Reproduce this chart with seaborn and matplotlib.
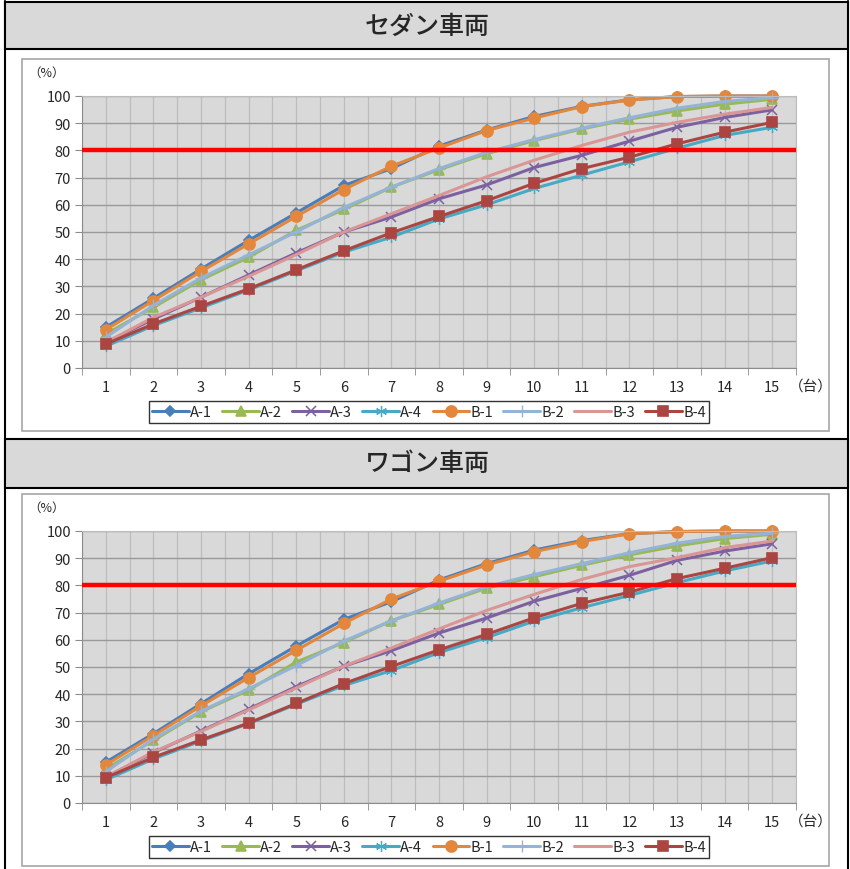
import pandas as pd
import matplotlib.pyplot as plt
import seaborn as sns
from matplotlib.patches import Rectangle
from matplotlib.lines import Line2D

sns.set_style("white")
plt.rcParams['font.family'] = ['Noto Sans CJK JP', 'DejaVu Sans']

# Daten
units = list(range(1, 16))
series_names = ["A-1", "A-2", "A-3", "A-4", "B-1", "B-2", "B-3", "B-4"]
titles = ["セダン車両", "ワゴン車両"]
threshold = 80

sedan_a1 = [15, 25.6, 36.4, 46.9, 57, 67.1, 73.3, 81.6, 87.5, 92.5, 96.2, 98.6, 99.8, 100, 100]
sedan_a2 = [12.5, 22.3, 32.4, 40.7, 50.6, 58.3, 66.5, 72.9, 78.8, 83.6, 87.9, 91.5, 94.5, 97, 98.8]
sedan_a3 = [9.4, 18, 26, 34.2, 42.3, 50, 55.5, 62.2, 67.3, 73.7, 78.2, 83.4, 88.5, 92.1, 94.9]
sedan_a4 = [8, 15.6, 22.1, 28.7, 35.7, 42.6, 48.1, 54.8, 60, 66, 70.9, 75.8, 80.8, 85.5, 88.5]
sedan_b1 = [14.1, 24.8, 35.5, 45.6, 55.7, 65.6, 74.2, 80.9, 87.3, 91.9, 96.1, 98.5, 99.8, 100, 100]
sedan_b2 = [11.3, 23, 33.1, 41.6, 50, 59, 66.5, 73.3, 79.3, 84, 88.2, 92, 95.5, 98, 99.4]
sedan_b3 = [9.4, 18.6, 26, 33.7, 41.7, 50, 56.7, 63.4, 70.3, 76.4, 81.8, 86.7, 90.3, 93.3, 95.8]
sedan_b4 = [8.8, 16.2, 22.7, 29.1, 36.1, 43.1, 49.7, 55.7, 61.5, 67.9, 73.3, 77.5, 82.4, 86.7, 90.3]

wagon_a1 = [15, 25.5, 36.5, 47.5, 57.7, 67.5, 74, 82, 88, 93, 96.5, 99, 99.8, 100, 100]
wagon_a2 = [12.5, 23, 33.5, 41.5, 51.8, 59, 67, 73, 79, 83.2, 87.4, 91.2, 94.5, 97.2, 98.8]
wagon_a3 = [9.5, 18.5, 26.5, 34.5, 42.8, 50.3, 56, 62.5, 68, 74.2, 78.9, 83.7, 89.2, 92.6, 95.3]
wagon_a4 = [8.5, 16.2, 22.8, 29.2, 36.3, 43.2, 48.7, 55.3, 60.8, 66.9, 71.8, 76.3, 81, 85.3, 89]
wagon_b1 = [14, 24.8, 35.7, 46.1, 56.1, 66, 75, 81.5, 87.5, 92.4, 96.1, 99, 99.8, 100, 100]
wagon_b2 = [11.5, 23.5, 33.8, 42, 50.5, 59.5, 67, 73.5, 79.5, 84, 88, 92, 95.5, 98, 99.2]
wagon_b3 = [9.5, 18.8, 26.3, 34.2, 42.3, 50.3, 57, 64, 70.8, 76.7, 82.2, 86.9, 90.2, 93.9, 96.3]
wagon_b4 = [9.3, 16.8, 23.2, 29.4, 36.6, 43.9, 50.2, 56.3, 62, 68.1, 73.4, 77.5, 82.5, 86.3, 90.2]

sedan = [sedan_a1, sedan_a2, sedan_a3, sedan_a4, sedan_b1, sedan_b2, sedan_b3, sedan_b4]
wagon = [wagon_a1, wagon_a2, wagon_a3, wagon_a4, wagon_b1, wagon_b2, wagon_b3, wagon_b4]

# Stil je Serie: Farbe, Marker, Markergröße, Markerlinie
styles = {
    "A-1": ("#4a7ebb", "D", 5, 1.2),
    "A-2": ("#98b954", "^", 6.5, 1.2),
    "A-3": ("#7d60a0", "x", 6.5, 1.1),
    "A-4": ("#46aac5", (6, 2, 0), 8, 0.9),
    "B-1": ("#e3873d", "o", 8, 1.2),
    "B-2": ("#95b3d7", "+", 9, 1.0),
    "B-3": ("#d99694", None, 0, 1.0),
    "B-4": ("#ab4542", "s", 7.5, 1.2),
}

W, H = 850, 870
fig = plt.figure(figsize=(W / 100, H / 100), dpi=100)


def fx(px):
    return px / W


def fy(py):
    return 1 - py / H


# Tabellenrahmen
fig.add_artist(Line2D([fx(5), fx(5)], [fy(2), fy(870)], color="black", lw=1.5, zorder=-1))
fig.add_artist(Line2D([fx(848), fx(848)], [fy(2), fy(870)], color="black", lw=1.5, zorder=-1))

panels = [(3, 50, 60, 432, 97, 413), (440, 489, 495, 867, 532, 848)]

for i, (h_top, h_bot, c_top, c_bot, p_top, leg_y) in enumerate(panels):
    # Kopfzeile
    fig.add_artist(Rectangle((fx(5), fy(h_bot)), fx(848) - fx(5), fy(h_top) - fy(h_bot),
                             transform=fig.transFigure, facecolor="#d9d9d9",
                             edgecolor="black", lw=1.5, zorder=-1))
    fig.text(fx(427), fy((h_top + h_bot) / 2), titles[i], ha="center", va="center",
             fontsize=18, fontweight="medium")
    # Diagrammrahmen
    fig.add_artist(Rectangle((fx(22), fy(c_bot)), fx(829) - fx(22), fy(c_top) - fy(c_bot),
                             transform=fig.transFigure, facecolor="white",
                             edgecolor="#a6a6a6", lw=1.2, zorder=-1))

    ax = fig.add_axes([fx(82), fy(p_top + 272), fx(796) - fx(82), 272 / H])
    ax.set_zorder(1)
    ax.set_facecolor("#d9d9d9")

    data = sedan if i == 0 else wagon
    for name, vals in zip(series_names, data):
        col, mk, ms, mew = styles[name]
        sns.lineplot(x=units, y=vals, ax=ax, color=col, marker=mk, markersize=ms,
                     markeredgecolor=col, markerfacecolor=col, markeredgewidth=mew,
                     linewidth=2.2, legend=False, clip_on=False)
    lines = list(ax.lines)

    ax.axhline(threshold, color="#ff0000", lw=3.2, zorder=5)

    ax.set_xlim(0.5, 15.5)
    ax.set_ylim(0, 100)
    ax.set_xticks(units)
    ax.set_xticks([u + 0.5 for u in [0] + units], minor=True)
    ax.set_yticks(range(0, 101, 10))
    ax.tick_params(axis="x", which="major", length=0, pad=9, labelsize=10.5)
    ax.tick_params(axis="x", which="minor", length=5, color="#8c8c8c", direction="out")
    ax.tick_params(axis="y", which="major", length=5, color="#8c8c8c", direction="out",
                   pad=3, labelsize=10.5)
    ax.tick_params(axis="x", bottom=True, which="both")
    ax.tick_params(axis="y", left=True)
    ax.grid(True, axis="y", color="#9a9a9a", lw=1.0)
    ax.grid(True, axis="x", which="both", color="#bdbdbd", lw=0.9)
    ax.set_axisbelow(True)
    for side in ["top", "right"]:
        ax.spines[side].set_color("#bdbdbd")
    for side in ["left", "bottom"]:
        ax.spines[side].set_color("#8c8c8c")
    ax.set_xlabel("")
    ax.set_ylabel("")

    fig.text(fx(28), fy(p_top - 24), "（%）", fontsize=9, va="center")
    fig.text(fx(789), fy(p_top + 290), "（台）", fontsize=10.5, va="center")

    leg = fig.legend(lines, series_names, loc="center", bbox_to_anchor=(fx(429), fy(leg_y)),
                     ncol=8, frameon=True, fontsize=10.5, handlelength=2.5, handletextpad=0.1,
                     columnspacing=0.7, borderpad=0.25, fancybox=False)
    leg.get_frame().set_edgecolor("black")
    leg.get_frame().set_linewidth(1.0)

plt.savefig("out.png", dpi=100)
